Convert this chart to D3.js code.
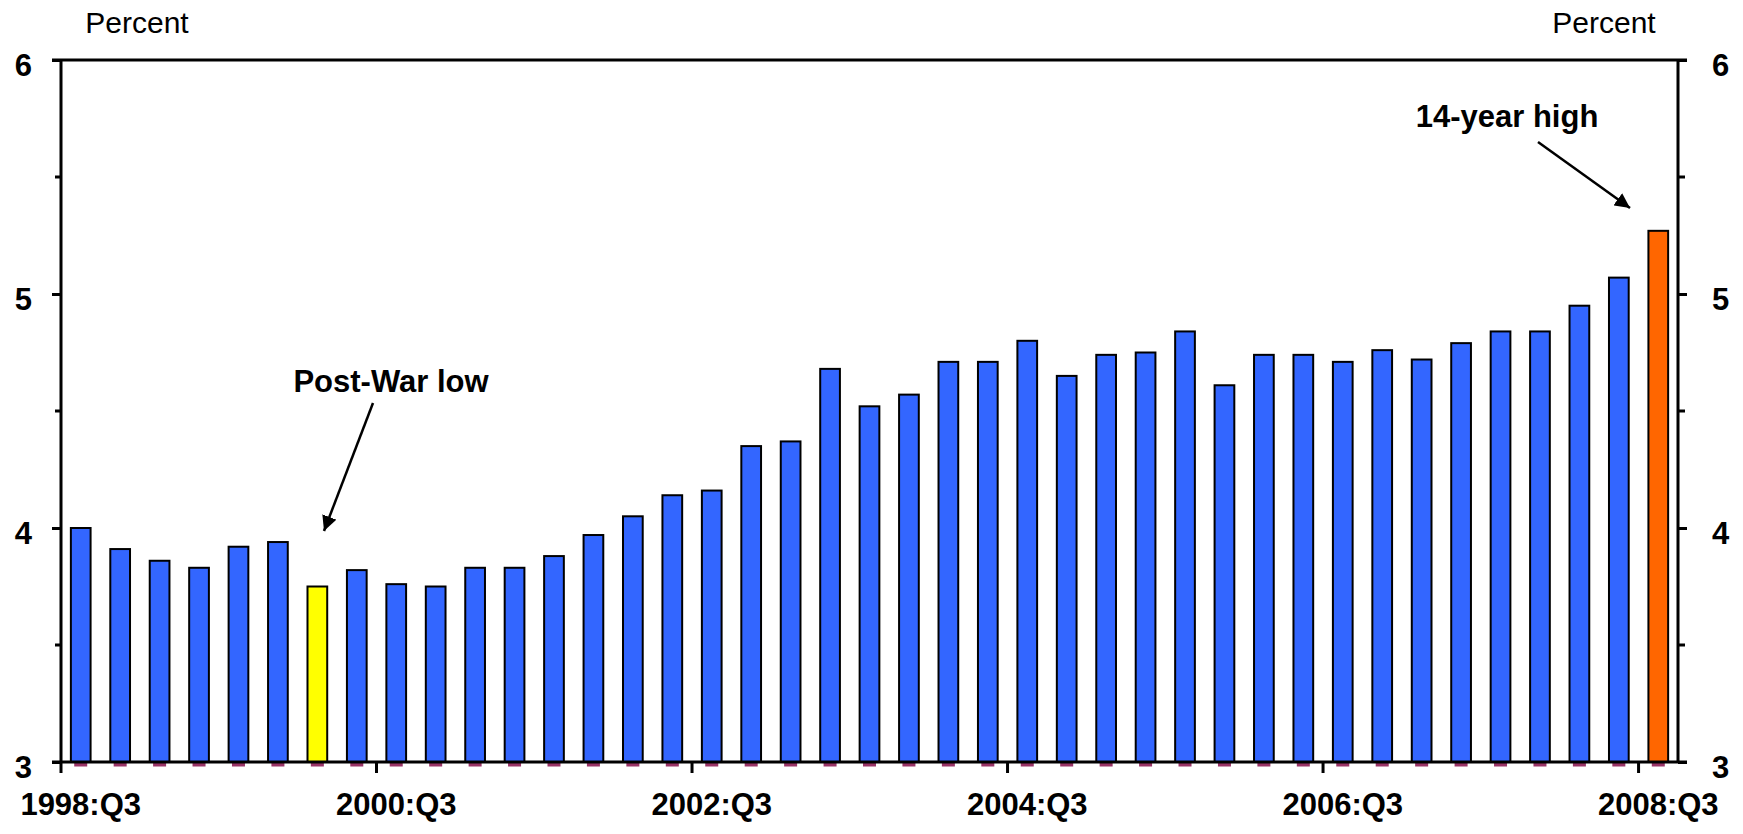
<!DOCTYPE html>
<html>
<head>
<meta charset="utf-8">
<script src="https://cdn.jsdelivr.net/npm/d3@7"></script>
<style>
  html, body { margin: 0; padding: 0; background: #fff; }
  svg text { font-family: "Liberation Sans", Arial, sans-serif; fill: #000; }
</style>
</head>
<body>
<svg id="chart" width="1743" height="834"></svg>
<script>
// ---- Data ----
const quarters = [
  "1998:Q3","1998:Q4","1999:Q1","1999:Q2","1999:Q3","1999:Q4",
  "2000:Q1","2000:Q2","2000:Q3","2000:Q4","2001:Q1","2001:Q2",
  "2001:Q3","2001:Q4","2002:Q1","2002:Q2","2002:Q3","2002:Q4",
  "2003:Q1","2003:Q2","2003:Q3","2003:Q4","2004:Q1","2004:Q2",
  "2004:Q3","2004:Q4","2005:Q1","2005:Q2","2005:Q3","2005:Q4",
  "2006:Q1","2006:Q2","2006:Q3","2006:Q4","2007:Q1","2007:Q2",
  "2007:Q3","2007:Q4","2008:Q1","2008:Q2","2008:Q3"
];
const values = [
  4.00, 3.91, 3.86, 3.83, 3.92, 3.94,
  3.75, 3.82, 3.76, 3.75, 3.83, 3.83,
  3.88, 3.97, 4.05, 4.14, 4.16, 4.35,
  4.37, 4.68, 4.52, 4.57, 4.71, 4.71,
  4.80, 4.65, 4.74, 4.75, 4.84, 4.61,
  4.74, 4.74, 4.71, 4.76, 4.72, 4.79,
  4.84, 4.84, 4.95, 5.07, 5.27
];
const highlightLow = "2000:Q1";
const highlightHigh = "2008:Q3";
const xTickLabels = ["1998:Q3","2000:Q3","2002:Q3","2004:Q3","2006:Q3","2008:Q3"];
const yMajorTicks = [3, 4, 5, 6];
const yMinorTicks = [3.5, 4.5, 5.5];
const unitLabel = "Percent";
const annotations = [
  { text: "Post-War low", target: "2000:Q1" },
  { text: "14-year high", target: "2008:Q3" }
];

// ---- Layout ----
const svg = d3.select("#chart");
const L = 61, R = 1678, T = 60, B = 762;
const font = '"Liberation Sans", Arial, sans-serif';

const x = d3.scaleBand().domain(quarters).range([L, R]).paddingInner(0.5).paddingOuter(0.25);
const y = d3.scaleLinear().domain([3, 6]).range([B, T]);
const step = x.step();

const colorFor = q => q === highlightLow ? "#FFFF00" : (q === highlightHigh ? "#FF6600" : "#3366FF");

// purple base marks below each bar
svg.append("g").selectAll("rect").data(quarters).join("rect")
  .attr("x", d => x(d) + x.bandwidth() / 2 - 6.5)
  .attr("y", B)
  .attr("width", 13)
  .attr("height", 4.5)
  .attr("fill", "#993366");

// bars
svg.append("g").selectAll("rect").data(quarters).join("rect")
  .attr("x", d => x(d))
  .attr("y", (d, i) => y(values[i]))
  .attr("width", x.bandwidth())
  .attr("height", (d, i) => y(3) - y(values[i]))
  .attr("fill", d => colorFor(d))
  .attr("stroke", "#000")
  .attr("stroke-width", 2);

// frame
const frame = svg.append("g").attr("stroke", "#000").attr("stroke-width", 3).attr("fill", "none");
frame.append("line").attr("x1", L - 9).attr("x2", R + 9).attr("y1", T).attr("y2", T);
frame.append("line").attr("x1", L - 9).attr("x2", R + 9).attr("y1", B).attr("y2", B);
frame.append("line").attr("x1", L).attr("x2", L).attr("y1", T).attr("y2", B);
frame.append("line").attr("x1", R).attr("x2", R).attr("y1", T).attr("y2", B);

// y axes (left + right) via d3 axes
const leftAxis = d3.axisLeft(y).tickValues(yMajorTicks).tickSize(9).tickFormat(d3.format("d"));
const rightAxis = d3.axisRight(y).tickValues(yMajorTicks).tickSize(9).tickFormat(d3.format("d"));
function styleAxis(g) {
  g.select(".domain").remove();
  g.selectAll(".tick line").attr("stroke", "#000").attr("stroke-width", 3);
  g.selectAll(".tick text")
    .attr("font-family", font).attr("font-size", 31).attr("font-weight", "bold")
    .attr("fill", "#000").attr("dy", "0.5em");
}
const gl = svg.append("g").attr("transform", `translate(${L},0)`).call(leftAxis);
styleAxis(gl);
gl.selectAll(".tick text").attr("x", -29);
const gr = svg.append("g").attr("transform", `translate(${R},0)`).call(rightAxis);
styleAxis(gr);
gr.selectAll(".tick text").attr("x", 34);

// minor ticks
svg.append("g").selectAll("line").data(yMinorTicks).join("line")
  .attr("x1", L - 6).attr("x2", L).attr("y1", d => y(d)).attr("y2", d => y(d))
  .attr("stroke", "#000").attr("stroke-width", 3);
svg.append("g").selectAll("line").data(yMinorTicks).join("line")
  .attr("x1", R).attr("x2", R + 7).attr("y1", d => y(d)).attr("y2", d => y(d))
  .attr("stroke", "#000").attr("stroke-width", 3);

// x ticks (at left edge of each labeled quarter's band)
svg.append("g").selectAll("line").data(xTickLabels).join("line")
  .attr("x1", d => x(d) - step * 0.25).attr("x2", d => x(d) - step * 0.25)
  .attr("y1", B).attr("y2", B + 11)
  .attr("stroke", "#000").attr("stroke-width", 3);

// x labels
svg.append("g").selectAll("text").data(xTickLabels).join("text")
  .attr("x", d => x(d) + x.bandwidth() / 2)
  .attr("y", 815)
  .attr("text-anchor", "middle")
  .attr("font-family", font).attr("font-size", 31).attr("font-weight", "bold")
  .text(d => d);

// unit labels
svg.append("text").attr("x", 137).attr("y", 33).attr("text-anchor", "middle")
  .attr("font-family", font).attr("font-size", 30).text(unitLabel);
svg.append("text").attr("x", 1604).attr("y", 33).attr("text-anchor", "middle")
  .attr("font-family", font).attr("font-size", 30).text(unitLabel);

// arrow marker
const defs = svg.append("defs");
defs.append("marker").attr("id", "arrow").attr("viewBox", "0 0 10 10")
  .attr("refX", 10).attr("refY", 5).attr("markerWidth", 6).attr("markerHeight", 6)
  .attr("markerUnits", "strokeWidth").attr("orient", "auto")
  .append("path").attr("d", "M0,0 L10,5 L0,10 Z").attr("fill", "#000");

// annotations
const annLayout = [
  { tx: 391, ty: 392, x1: 373, y1: 403, x2: 324, y2: 531 },
  { tx: 1507, ty: 127, x1: 1538, y1: 142, x2: 1630, y2: 208 }
];
annotations.forEach((a, i) => {
  const p = annLayout[i];
  svg.append("text").attr("x", p.tx).attr("y", p.ty).attr("text-anchor", "middle")
    .attr("font-family", font).attr("font-size", 31).attr("font-weight", "bold").text(a.text);
  svg.append("line").attr("x1", p.x1).attr("y1", p.y1).attr("x2", p.x2).attr("y2", p.y2)
    .attr("stroke", "#000").attr("stroke-width", 2.5).attr("marker-end", "url(#arrow)");
});
</script>
</body>
</html>
